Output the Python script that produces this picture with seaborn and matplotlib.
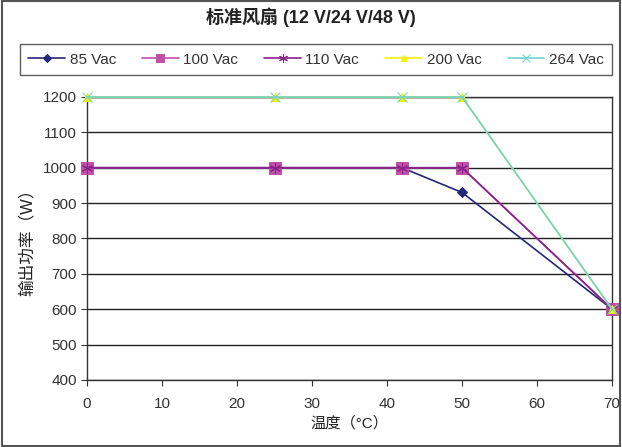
import numpy as np
import pandas as pd
import matplotlib
matplotlib.use('Agg')
import matplotlib.pyplot as plt
import seaborn as sns

# data
temps = [0, 25, 42, 50, 70]
series_names = ['85 Vac', '100 Vac', '110 Vac', '200 Vac', '264 Vac']
p85 = [1000, 1000, 1000, 930, 600]
p100 = [1000, 1000, 1000, 1000, 600]
p110 = [1000, 1000, 1000, 1000, 600]
p200 = [1200, 1200, 1200, 1200, 600]
p264 = [1200, 1200, 1200, 1200, 600]

colors = ['#26267a', '#c050a8', '#8a2288', '#f2f200', '#6fd3cf']
markers = ['D', 's', (6, 2, 0), '^', 'x']
msizes = [5, 8, 8, 6, 7]

sns.set_style('white')
plt.rcParams['font.family'] = ['Liberation Sans', 'Noto Sans CJK SC', 'DejaVu Sans']
cjk = ['Liberation Sans', 'Noto Sans CJK SC', 'DejaVu Sans']

df = pd.DataFrame({'temp': temps * 5,
                   'power': p85 + p100 + p110 + p200 + p264,
                   'series': np.repeat(series_names, len(temps))})

fig = plt.figure(figsize=(6.22, 4.47), dpi=100)
ax = fig.add_axes([0.14, 0.15, 0.844, 0.633])

for name, c, m, s in zip(series_names, colors, markers, msizes):
    sub = df[df['series'] == name]
    sns.lineplot(data=sub, x='temp', y='power', ax=ax, color=c, marker=m,
                 markersize=s, markeredgecolor=c, linewidth=1.2, label=name,
                 clip_on=False, zorder=3)

ax.set_xlim(0, 70)
ax.set_ylim(400, 1200)
ax.set_xticks(range(0, 71, 10))
ax.set_yticks(range(400, 1201, 100))
ax.yaxis.grid(True, color='#222222', linewidth=1)
ax.xaxis.grid(False)
for sp in ax.spines.values():
    sp.set_color('#333333')
    sp.set_linewidth(1)
ax.tick_params(axis='both', direction='out', length=4, color='#333333',
               labelsize=11, labelcolor='#333333', bottom=True, left=True)
ax.tick_params(axis='x', pad=8)
ax.set_xlabel('温度（°C）', fontsize=11, color='#222222', labelpad=4, family=cjk)
ax.set_ylabel('输出功率（W）', fontsize=12, color='#222222', labelpad=6, family=cjk)

ax.get_legend().remove()
h, l = ax.get_legend_handles_labels()
leg = fig.legend(h, l, ncol=5, loc='lower left',
                 bbox_to_anchor=(0.032, 0.832, 0.952, 0.067), mode='expand',
                 borderaxespad=0,
                 frameon=True, fancybox=False, edgecolor='#333333',
                 fontsize=11, handlelength=2.4, markerscale=0.8,
                 borderpad=0.55, handletextpad=0.3)
leg.get_frame().set_linewidth(1)
for t in leg.get_texts():
    t.set_color('#333333')

fig.text(0.5, 0.962, '标准风扇 (12 V/24 V/48 V)', ha='center', va='center',
         fontsize=13, fontweight='bold', color='#222222', family=cjk)

fig.patches.append(plt.Rectangle((0.003, 0.003), 0.994, 0.994,
                                 transform=fig.transFigure, fill=False,
                                 edgecolor='#555555', linewidth=1.5))

fig.savefig('out.png', dpi=100)
